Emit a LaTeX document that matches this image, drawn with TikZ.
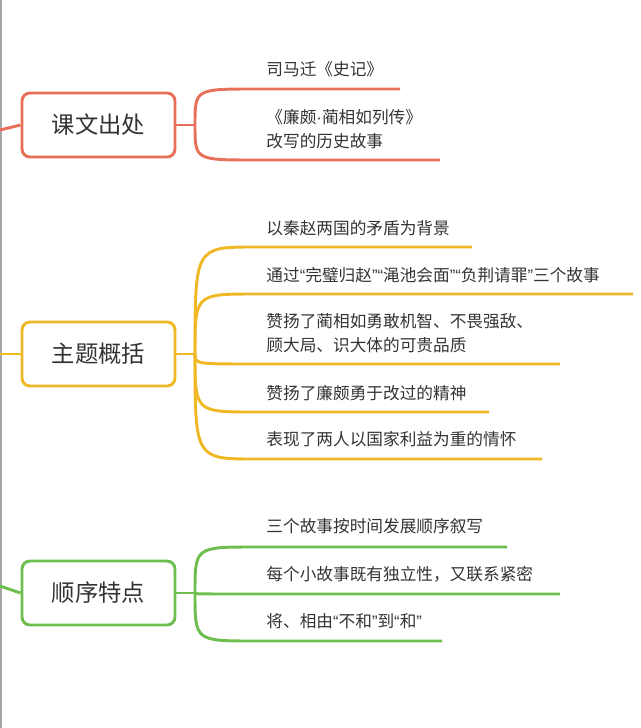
\documentclass[tikz,border=0pt]{standalone}
\usepackage{fontspec}
\setmainfont{Noto Sans CJK SC}
\newfontfamily\lat{Liberation Sans}
\newcommand{\myLq}{{\lat “}}\newcommand{\myRq}{{\lat ”}}
\begin{document}
\begin{tikzpicture}[x=0.75pt,y=-0.75pt,line width=2.2pt,
  box/.style={draw,rounded corners=6pt,line width=2.2pt,fill=white,minimum width=153*0.75pt,minimum height=64*0.75pt,font=\fontsize{17.5}{20}\selectfont,text=black!80},
  leaf/.style={anchor=west,font=\fontsize{12.5}{18}\selectfont,text=black!80,align=left,inner sep=0pt}]
\definecolor{cr}{HTML}{E8705A}\definecolor{cy}{HTML}{F0B824}\definecolor{cg}{HTML}{6DBE4E}
\useasboundingbox (0,0) rectangle (640,728);
\draw[gray!70,line width=1pt] (1,0) -- (1,728);
% branch 1
\node[box,draw=cr] (b1) at (98.5,125) {课文出处};
\coordinate (j1) at (195,125);
\draw[cr] (0,130) .. controls (10,127) .. (b1.west);
\draw[cr] (b1.east) -- (j1);
\foreach \y/\e/\n in {89/400/a,160/440/b}{
  \coordinate (s1\n) at (255,\y); \coordinate (e1\n) at (\e,\y);
  \draw[cr] (j1) .. controls (195,\y) .. (s1\n) -- (e1\n);}
\node[leaf] (t11) at (265,69) {司马迁《史记》};
\node[leaf] (t12) at (265,129) {《廉颇{\lat ·}蔺相如列传》\\改写的历史故事};
% branch 2
\node[box,draw=cy] (b2) at (98.5,354) {主题概括};
\coordinate (j2) at (195,354);
\draw[cy] (0,354) -- (b2.west);
\draw[cy] (b2.east) -- (j2);
\foreach \y/\e/\n in {247/472/a,294/633/b,364/560/c,412/489/d,459/542/e}{
  \coordinate (s2\n) at (255,\y); \coordinate (e2\n) at (\e,\y);
  \draw[cy] (j2) .. controls (195,\y) .. (s2\n) -- (e2\n);}
\node[leaf] (t21) at (265,228) {以秦赵两国的矛盾为背景};
\node[leaf] (t22) at (265,275) {通过\myLq 完璧归赵\myRq\myLq 渑池会面\myRq\myLq 负荆请罪\myRq 三个故事};
\node[leaf] (t23) at (265,333) {赞扬了蔺相如勇敢机智、不畏强敌、\\顾大局、识大体的可贵品质};
\node[leaf] (t24) at (265,393) {赞扬了廉颇勇于改过的精神};
\node[leaf] (t25) at (265,439) {表现了两人以国家利益为重的情怀};
% branch 3
\node[box,draw=cg] (b3) at (98.5,593) {顺序特点};
\coordinate (j3) at (195,593);
\draw[cg] (0,586) .. controls (10,590) .. (b3.west);
\draw[cg] (b3.east) -- (j3);
\foreach \y/\e/\n in {547/507/a,594/560/b,641/442/c}{
  \coordinate (s3\n) at (255,\y); \coordinate (e3\n) at (\e,\y);
  \draw[cg] (j3) .. controls (195,\y) .. (s3\n) -- (e3\n);}
\node[leaf] (t31) at (265,526) {三个故事按时间发展顺序叙写};
\node[leaf] (t32) at (265,574) {每个小故事既有独立性，又联系紧密};
\node[leaf] (t33) at (265,621) {将、相由\myLq 不和\myRq 到\myLq 和\myRq};
\end{tikzpicture}
\end{document}
